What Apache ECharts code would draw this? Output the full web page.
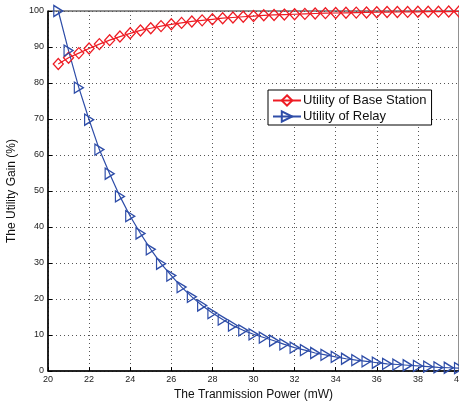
<!DOCTYPE html>
<html>
<head>
<meta charset="utf-8">
<script src="https://cdn.jsdelivr.net/npm/echarts@6/dist/echarts.min.js"></script>
<style>
  html, body { margin: 0; padding: 0; background: #fff; }
  #main { width: 459px; height: 402px; }
</style>
</head>
<body>
<div id="main"></div>
<script>
// transmission power (mW)
var power = [20.5, 21, 21.5, 22, 22.5, 23, 23.5, 24, 24.5, 25, 25.5, 26, 26.5, 27, 27.5, 28, 28.5, 29, 29.5, 30,
  30.5, 31, 31.5, 32, 32.5, 33, 33.5, 34, 34.5, 35, 35.5, 36, 36.5, 37, 37.5, 38, 38.5, 39, 39.5, 40];
var baseStation = [85.3, 87.0, 88.3, 89.6, 90.8, 91.9, 92.9, 93.8, 94.6, 95.2, 95.8, 96.3, 96.7, 97.1, 97.4, 97.7, 98.0, 98.2, 98.4, 98.6,
  98.8, 98.9, 99.0, 99.1, 99.2, 99.3, 99.4, 99.45, 99.5, 99.55, 99.6, 99.65, 99.7, 99.72, 99.75, 99.78, 99.8, 99.82, 99.85, 99.87];
var relay = [100, 89.0, 78.7, 69.8, 61.5, 54.8, 48.5, 43.0, 38.2, 33.8, 29.8, 26.5, 23.3, 20.6, 18.2, 16.1, 14.3, 12.6, 11.3, 10.2,
  9.3, 8.4, 7.4, 6.5, 5.8, 5.0, 4.5, 3.9, 3.4, 3.0, 2.7, 2.3, 2.0, 1.8, 1.6, 1.4, 1.2, 1.0, 0.9, 0.8];
var seriesNames = ['Utility of Base Station', 'Utility of Relay'];

function pairs(ys) {
  return power.map(function (x, i) { return [x, ys[i]]; });
}

var chart = echarts.init(document.getElementById('main'));
var font = 'Liberation Sans, Arial, sans-serif';
var gridLine = { show: true, lineStyle: { color: '#555', type: [1, 3], width: 1 } };

chart.setOption({
  animation: false,
  textStyle: { fontFamily: font },
  grid: {
    left: 48, right: 0, top: 11, bottom: 31, outerBoundsMode: 'none',
    show: true, borderColor: '#222', borderWidth: 1
  },
  legend: {
    left: 268, top: 90, orient: 'vertical',
    backgroundColor: '#fff', borderColor: '#000', borderWidth: 1,
    padding: [4, 5, 2, 4], itemGap: 3, itemWidth: 28, itemHeight: 13,
    textStyle: { fontSize: 13, color: '#111', fontFamily: font, padding: [0, 0, 0, -3] },
    data: seriesNames
  },
  xAxis: {
    type: 'value', min: 20, max: 40, interval: 2,
    name: 'The Tranmission Power (mW)', nameLocation: 'middle', nameGap: 14,
    nameTextStyle: { fontSize: 12, color: '#111' },
    axisLine: { lineStyle: { color: '#000', width: 1.5 } },
    axisTick: { inside: true, length: 4, lineStyle: { color: '#000' } },
    axisLabel: { fontSize: 9, color: '#222', margin: 4 },
    splitLine: gridLine
  },
  yAxis: {
    type: 'value', min: 0, max: 100, interval: 10,
    name: 'The Utility Gain (%)', nameLocation: 'middle', nameGap: 30,
    nameTextStyle: { fontSize: 12, color: '#111' },
    axisLine: { show: true, lineStyle: { color: '#000', width: 1.5 } },
    axisTick: { show: true, inside: true, length: 4, lineStyle: { color: '#000' } },
    axisLabel: { fontSize: 9, color: '#222', margin: 4 },
    splitLine: gridLine
  },
  series: [
    {
      name: seriesNames[0], type: 'line', data: pairs(baseStation),
      symbol: 'diamond', symbolSize: [10, 11],
      lineStyle: { color: '#ee1c24', width: 1.2 },
      itemStyle: { color: 'rgba(255,255,255,0)', borderColor: '#ee1c24', borderWidth: 1.3 }
    },
    {
      name: seriesNames[1], type: 'line', data: pairs(relay),
      symbol: 'path://M0,0 L10,5 L0,10 Z', symbolSize: [9, 11],
      lineStyle: { color: '#2e4da8', width: 1.2 },
      itemStyle: { color: 'rgba(255,255,255,0)', borderColor: '#2e4da8', borderWidth: 1.3 }
    }
  ]
});
</script>
</body>
</html>
